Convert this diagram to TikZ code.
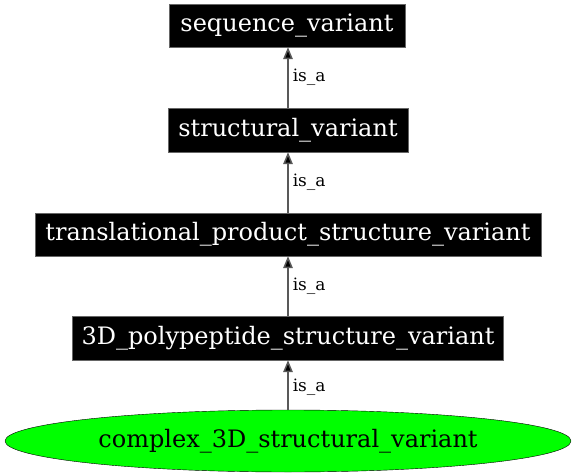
\documentclass[tikz,border=0pt]{standalone}
\usepackage{fontspec}
\setmainfont{DejaVu Serif}
\usetikzlibrary{shapes.geometric,arrows.meta}
\begin{document}
\begin{tikzpicture}[x=1pt,y=-1pt,
  termbox/.style={fill=black,draw=black!60,text=white,font=\fontsize{24}{26}\selectfont,inner sep=0pt},
  isa/.style={draw=black!65,line width=1.5pt,-{Triangle[length=12pt,width=9.5pt,fill=black]}},
  lbl/.style={font=\fontsize{17}{19}\selectfont,anchor=west,inner sep=0pt}]
\useasboundingbox (0,0) rectangle (576,476);
\node[termbox,minimum width=236pt,minimum height=43pt] (sv) at (287,25.5) {sequence\_variant};
\node[termbox,minimum width=240pt,minimum height=44pt] (st) at (288,130) {structural\_variant};
\node[termbox,minimum width=506pt,minimum height=43pt] (tp) at (288,234.5) {translational\_product\_structure\_variant};
\node[termbox,minimum width=431pt,minimum height=44pt] (pp) at (288,338) {3D\_polypeptide\_structure\_variant};
\node[ellipse,draw=black,fill=green,inner sep=0pt,minimum width=566pt,minimum height=62pt,font=\fontsize{24}{26}\selectfont] (cx) at (288,441) {complex\_3D\_structural\_variant};
\draw[isa] (cx) -- node[lbl,pos=0.45,xshift=4pt] {is\_a} (pp);
\draw[isa] (pp) -- node[lbl,pos=0.5,xshift=4pt] {is\_a} (tp);
\draw[isa] (tp) -- node[lbl,pos=0.5,xshift=4pt] {is\_a} (st);
\draw[isa] (st) -- node[lbl,pos=0.5,xshift=4pt] {is\_a} (st |- sv.south);
\end{tikzpicture}
\end{document}
